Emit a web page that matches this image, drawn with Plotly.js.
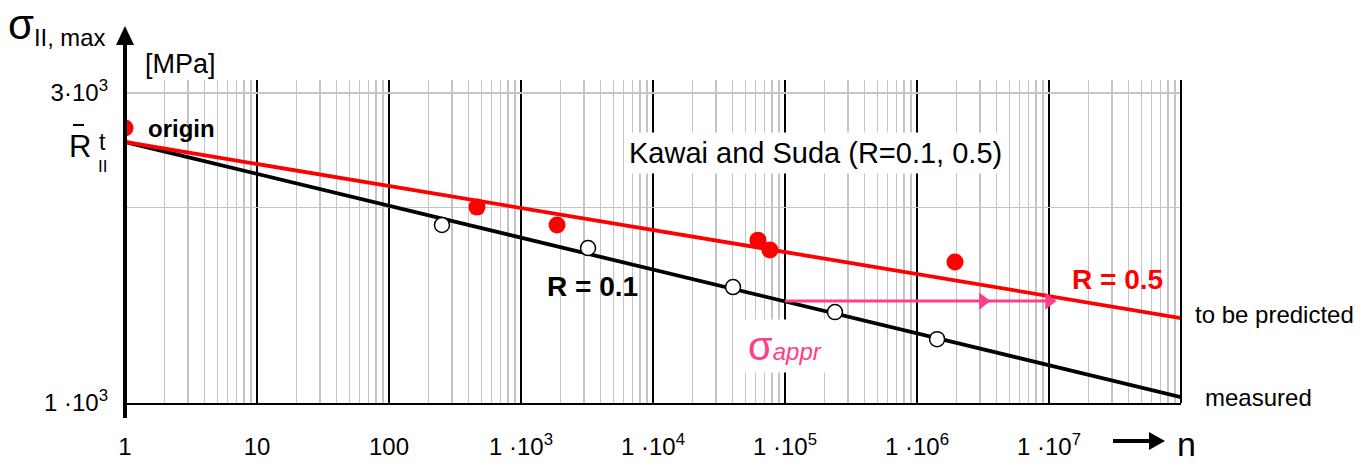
<!DOCTYPE html>
<html>
<head>
<meta charset="utf-8">
<script src="https://cdn.plot.ly/plotly-3.0.1.min.js"></script>
<style>html,body{margin:0;padding:0;background:#fff;}#chart{width:1365px;height:469px;}</style>
</head>
<body>
<div id="chart"></div>
<script>
// ---- data ----
const nTickVals = [1, 10, 100, 1e3, 1e4, 1e5, 1e6, 1e7, 1e8];
const nTickText = ['1', '10', '100', '1 ·10<sup>3</sup>', '1 ·10<sup>4</sup>', '1 ·10<sup>5</sup>', '1 ·10<sup>6</sup>', '1 ·10<sup>7</sup>', ''];
const sigmaTickVals = [1000, 2000, 3000];
const sigmaTickText = ['1 ·10<sup>3</sup>', '', '3·10<sup>3</sup>'];

const lineN = [1, 1e8];
const sigmaR05 = [2522, 1351];   // R = 0.5, to be predicted
const sigmaR01 = [2522, 1021];   // R = 0.1, measured

const redN = [1, 464, 1875, 62400, 76900, 1.94e6];
const redSigma = [2650, 2002, 1879, 1781, 1720, 1648];

const blackN = [252, 3220, 40400, 2.39e5, 1.42e6];
const blackSigma = [1879, 1732, 1508, 1380, 1254];

const apprN = [1e5, 1e7];
const apprSigma = [1435, 1435];
const apprHeadN = [3.16e6, 1e7];
const apprHeadSigma = [1435, 1435];

// minor grid positions (2..9 per decade)
const minorN = [];
for (let d = 0; d < 8; d++) for (let k = 2; k <= 9; k++) minorN.push(k * Math.pow(10, d));

// ---- layout helpers ----
const L = 125, T = 80, W = 1056, H = 323;
const X = px => (px - L) / W;
const Y = py => (T + H - py) / H;
const F = 'Liberation Sans, Arial, sans-serif';
const PINK = '#ff3d8a';

function ann(text, px, py, o) {
  o = o || {};
  return Object.assign({
    text: text, x: X(px), y: Y(py), xref: 'paper', yref: 'paper',
    showarrow: false, xanchor: 'center', yanchor: 'middle',
    font: {family: F, size: o.size || 24, color: o.color || '#000'}
  }, o.extra || {});
}

const traces = [
  {x: lineN, y: sigmaR01, mode: 'lines', line: {color: '#000', width: 3.8}, hoverinfo: 'skip'},
  {x: lineN, y: sigmaR05, mode: 'lines', line: {color: '#ff0000', width: 3.8}, hoverinfo: 'skip'},
  {x: apprN, y: apprSigma, mode: 'lines', line: {color: PINK, width: 3}, hoverinfo: 'skip'},
  {x: apprHeadN, y: apprHeadSigma, mode: 'markers', marker: {symbol: 'triangle-right', size: 15, color: PINK}, hoverinfo: 'skip'},
  {x: redN, y: redSigma, mode: 'markers', marker: {symbol: 'circle', size: 17, color: '#ff0000'}, hoverinfo: 'skip'},
  {x: blackN, y: blackSigma, mode: 'markers', marker: {symbol: 'circle', size: 15, color: '#fff', line: {color: '#000', width: 1.5}}, hoverinfo: 'skip'}
];

const layout = {
  width: 1365, height: 469,
  margin: {l: L, r: 1365 - L - W, t: T, b: 469 - T - H, pad: 0},
  paper_bgcolor: '#fff', plot_bgcolor: '#fff',
  showlegend: false,
  font: {family: F, color: '#000'},
  xaxis: {
    type: 'log', range: [0, 8], fixedrange: true,
    tickmode: 'array', tickvals: nTickVals, ticktext: nTickText,
    showgrid: true, gridcolor: '#000', gridwidth: 1.5,
    minor: {tickmode: 'array', tickvals: minorN, showgrid: true, gridcolor: '#c4c4c4', gridwidth: 1.5, ticks: ''},
    showline: true, linecolor: '#000', linewidth: 2,
    ticks: '', ticklabelstandoff: 21,
    tickfont: {family: F, size: 24, color: '#000'},
    zeroline: false
  },
  yaxis: {
    type: 'log', range: [3, 3.4971], fixedrange: true,
    tickmode: 'array', tickvals: sigmaTickVals, ticktext: sigmaTickText,
    showgrid: true, gridcolor: '#c4c4c4', gridwidth: 1.5,
    showline: false, ticks: '', ticklabelstandoff: 16,
    tickfont: {family: F, size: 24, color: '#000'},
    zeroline: false
  },
  shapes: [
    // right border
    {type: 'line', xref: 'paper', yref: 'paper', x0: 1, x1: 1, y0: 0, y1: 1, line: {color: '#000', width: 2}},
    // y axis with arrow
    {type: 'line', xref: 'paper', yref: 'paper', x0: 0, x1: 0, y0: Y(418), y1: Y(40), line: {color: '#000', width: 4}},
    {type: 'path', xref: 'paper', yref: 'paper', path: `M ${X(125)} ${Y(26)} L ${X(116)} ${Y(45)} L ${X(134)} ${Y(45)} Z`, fillcolor: '#000', line: {width: 0}},
    // arrow toward n
    {type: 'line', xref: 'paper', yref: 'paper', x0: X(1113), x1: X(1152), y0: Y(441), y1: Y(441), line: {color: '#000', width: 4}},
    {type: 'path', xref: 'paper', yref: 'paper', path: `M ${X(1165)} ${Y(441)} L ${X(1149)} ${Y(432)} L ${X(1149)} ${Y(450)} Z`, fillcolor: '#000', line: {width: 0}},
    // bar over R
    {type: 'line', xref: 'paper', yref: 'paper', x0: X(73), x1: X(84), y0: Y(125), y1: Y(125), line: {color: '#000', width: 2}}
  ],
  annotations: [
    ann('<span style="font-size:42px">σ</span><sub>II, max</sub>', 6, 26, {size: 34, extra: {xanchor: 'left'}}),
    ann('[MPa]', 143, 64, {size: 27, extra: {xanchor: 'left'}}),
    ann('<b>origin</b>', 146, 128, {size: 24, extra: {xanchor: 'left'}}),
    ann('R', 80, 146, {size: 31}),
    ann('t', 102.5, 142, {size: 23}),
    ann('II', 102, 166, {size: 17}),
    ann('Kawai and Suda (R=0.1, 0.5)', 815, 153, {size: 29, extra: {bgcolor: '#fff', borderpad: 4}}),
    ann('<b>R = 0.1</b>', 592, 286, {size: 28}),
    ann('<b>R = 0.5</b>', 1117, 279, {size: 28, color: '#ff0000'}),
    ann('to be predicted', 1193, 314, {size: 24, extra: {xanchor: 'left'}}),
    ann('measured', 1203, 397, {size: 24, extra: {xanchor: 'left'}}),
    ann('σ<i><span style="font-size:24px">appr</span></i>', 743, 346, {size: 40, color: PINK, extra: {xanchor: 'left', bgcolor: '#fff', borderpad: 4}}),
    ann('n', 1175, 444, {size: 34, extra: {xanchor: 'left'}})
  ]
};

Plotly.newPlot('chart', traces, layout, {displayModeBar: false, staticPlot: true});
</script>
</body>
</html>
